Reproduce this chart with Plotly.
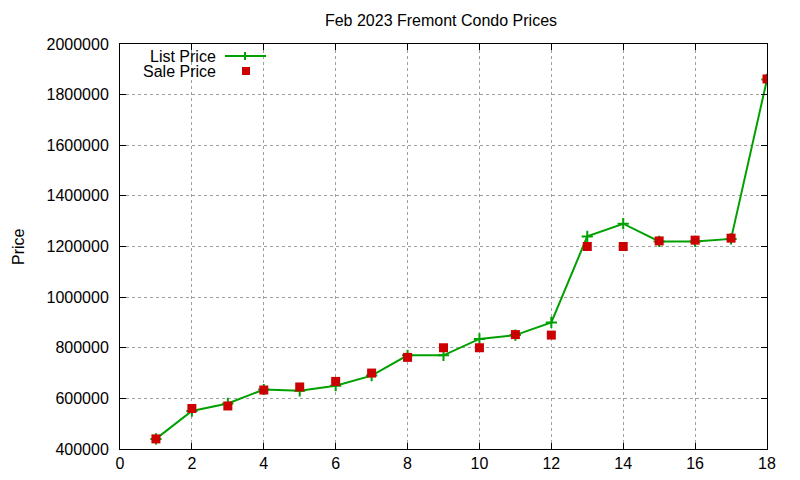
import plotly.graph_objects as go

# Feb 2023 Fremont condo listings, ordered by price
listing = list(range(1, 19))
list_price = [440000, 550000, 580000, 635000, 630000, 650000, 690000, 770000, 770000,
              835000, 850000, 900000, 1240000, 1290000, 1220000, 1220000, 1230000, 1860000]
sale_price = [440000, 560000, 570000, 633000, 645000, 667000, 700000, 762000, 800000,
              800000, 852000, 850000, 1200000, 1200000, 1222000, 1225000, 1233000, 1862000]

x_ticks = list(range(0, 19, 2))
y_ticks = list(range(400000, 2000001, 200000))

GREEN = "#00a000"
RED = "#cc0000"
FONT = "Liberation Sans"

# page body has an 8px margin all round, so the figure is smaller than the window
W, H = 784, 464
L, T, PW, PH = 112, 36, 647, 405

fig = go.Figure()
fig.add_trace(go.Scatter(x=listing, y=list_price, mode="lines+markers", name="List Price",
                         line=dict(color=GREEN, width=2),
                         marker=dict(symbol="cross-thin", size=8, line=dict(color=GREEN, width=2))))
fig.add_trace(go.Scatter(x=listing, y=sale_price, mode="markers", name="Sale Price",
                         marker=dict(symbol="square", size=9, color=RED)))

axis_style = dict(showline=True, linecolor="black", linewidth=1, mirror="ticks",
                  ticks="inside", ticklen=6, tickcolor="black", automargin=False,
                  showgrid=True, gridcolor="#a0a0a0", griddash="dot", gridwidth=1,
                  zeroline=False, tickfont=dict(size=16, color="black"))

fig.update_xaxes(range=[0, 18], tickvals=x_ticks, **axis_style)
fig.update_yaxes(range=[400000, 2000000], tickvals=y_ticks, tickformat="d",
                 ticklabelstandoff=7, **axis_style)


# helpers: window pixel -> paper coords
def px(x):
    return (x - 8 - L) / PW


def py(y):
    return 1 - (y - 8 - T) / PH


shapes = [
    dict(type="line", xref="paper", yref="paper", x0=px(225), x1=px(266),
         y0=py(56), y1=py(56), line=dict(color=GREEN, width=2)),
    dict(type="line", xref="paper", yref="paper", x0=px(245), x1=px(245),
         y0=py(52), y1=py(60), line=dict(color=GREEN, width=2)),
    dict(type="rect", xref="paper", yref="paper", x0=px(242), x1=px(250),
         y0=py(67), y1=py(75), fillcolor=RED, line=dict(width=0)),
]
annotations = [
    dict(text="List Price", xref="paper", yref="paper", x=px(218), y=py(56),
         xanchor="right", yanchor="middle", showarrow=False, font=dict(size=16, color="black")),
    dict(text="Sale Price", xref="paper", yref="paper", x=px(218), y=py(72),
         xanchor="right", yanchor="middle", showarrow=False, font=dict(size=16, color="black")),
    dict(text="Price", xref="paper", yref="paper", x=px(18), y=py(247), textangle=-90,
         xanchor="center", yanchor="middle", showarrow=False, font=dict(size=16, color="black")),
]

fig.update_layout(
    width=W, height=H,
    margin=dict(l=L, r=W - L - PW, t=T, b=H - T - PH),
    paper_bgcolor="white", plot_bgcolor="white",
    font=dict(family=FONT, color="black", size=16),
    title=dict(text="Feb 2023 Fremont Condo Prices", x=(441 - 8) / W, xanchor="center",
               y=1 - (20 - 8) / H, yanchor="middle", yref="container", font=dict(size=16)),
    showlegend=False,
    shapes=shapes,
    annotations=annotations,
)

fig.write_html("out.html")
